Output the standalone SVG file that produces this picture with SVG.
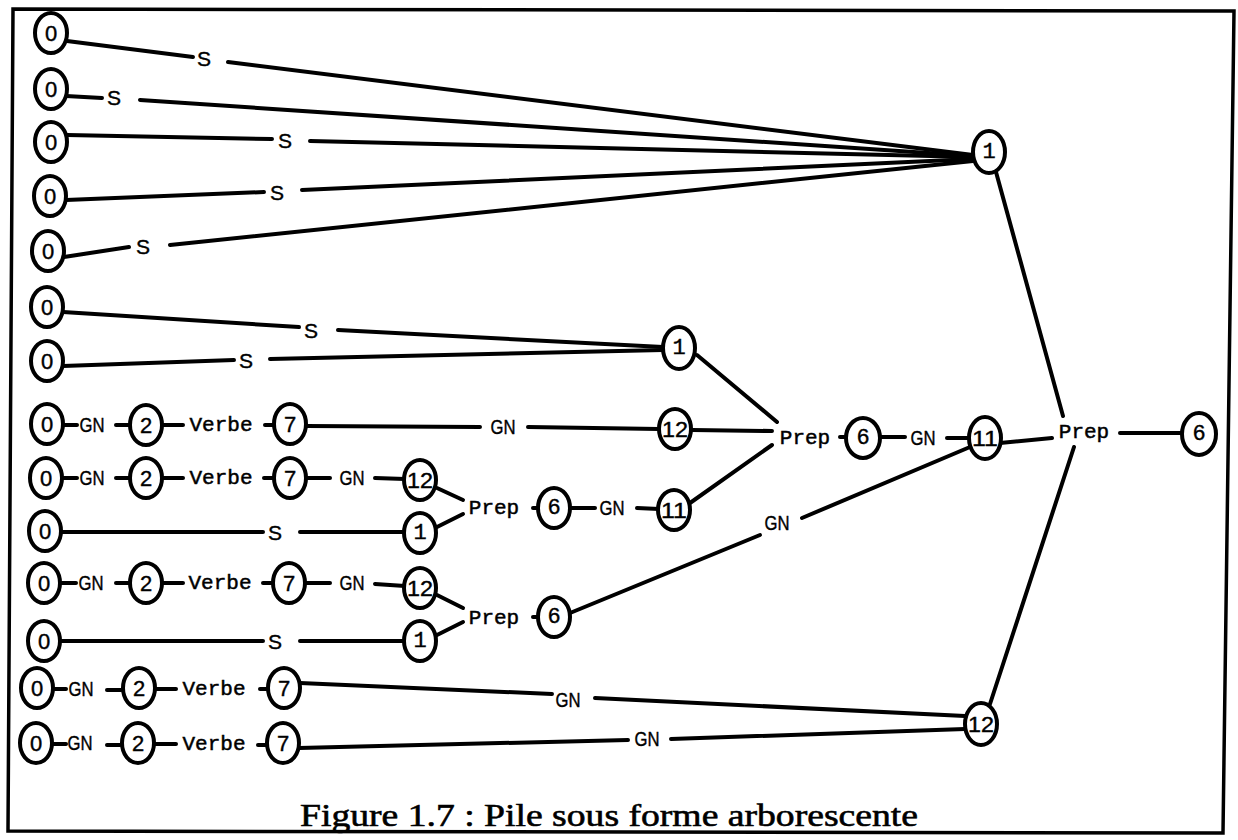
<svg xmlns="http://www.w3.org/2000/svg" width="1238" height="840" viewBox="0 0 1238 840">
  <style>
    .edge { stroke: #000; stroke-width: 4; fill: none; stroke-linecap: round; }
    .node ellipse { fill: #fff; stroke: #000; stroke-width: 4; }
    .num { font-family: "Liberation Sans", Arial, sans-serif; font-size: 22px; text-anchor: middle; dominant-baseline: central; fill: #000; stroke: #000; stroke-width: 0.4; }
    .numm { font-family: "Liberation Mono", "Courier New", monospace; font-size: 22px; text-anchor: middle; dominant-baseline: central; fill: #000; stroke: #000; stroke-width: 0.4; }
    .mono { font-family: "Liberation Mono", "Courier New", monospace; font-size: 21px; text-anchor: middle; dominant-baseline: central; fill: #000; stroke: #000; stroke-width: 0.5; }
    .gn { font-family: "Liberation Sans", Arial, sans-serif; font-size: 20px; text-anchor: middle; dominant-baseline: central; fill: #000; stroke: #000; stroke-width: 0.4; }
    .s { font-family: "Liberation Sans", Arial, sans-serif; font-size: 21px; text-anchor: middle; dominant-baseline: central; fill: #000; stroke: #000; stroke-width: 0.4; }
    .title { font-family: "Liberation Serif", "Times New Roman", serif; font-size: 32px; text-anchor: middle; fill: #000; stroke: #000; stroke-width: 0.6; }
  </style>

  <!-- frame -->
  <polygon points="13,9 1234,11 1223,833 8,831" fill="none" stroke="#000" stroke-width="3.5"/>

  <!-- connectors -->
  <g id="connectors" class="edge">
    <!-- rows 1-5 : S towards top node 1 -->
    <line x1="67" y1="41" x2="193" y2="57"/><line x1="228" y1="62" x2="973" y2="155"/>
    <line x1="66" y1="96" x2="102" y2="98"/><line x1="140" y1="100" x2="973" y2="156"/>
    <line x1="67" y1="135" x2="272" y2="139"/><line x1="310" y1="141" x2="973" y2="157"/>
    <line x1="66" y1="200" x2="264" y2="192"/><line x1="302" y1="190" x2="973" y2="159"/>
    <line x1="64" y1="257" x2="129" y2="247"/><line x1="170" y1="245" x2="973" y2="161"/>
    <!-- rows 6-7 : S towards middle node 1 -->
    <line x1="63" y1="312" x2="299" y2="327"/><line x1="338" y1="330" x2="663" y2="347"/>
    <line x1="63" y1="366" x2="234" y2="360"/><line x1="270" y1="359" x2="663" y2="350"/>
    <!-- row 8 -->
    <line x1="63" y1="425" x2="77" y2="425"/><line x1="116" y1="425" x2="131" y2="425"/>
    <line x1="162" y1="425" x2="183" y2="425"/><line x1="265" y1="425" x2="274" y2="425"/>
    <line x1="306" y1="426" x2="480" y2="427"/><line x1="528" y1="427" x2="659" y2="429"/>
    <line x1="692" y1="430" x2="772" y2="431"/>
    <!-- row 9 -->
    <line x1="62" y1="478" x2="77" y2="478"/><line x1="116" y1="478" x2="130" y2="478"/>
    <line x1="162" y1="478" x2="183" y2="478"/><line x1="264" y1="478" x2="274" y2="478"/>
    <line x1="306" y1="478" x2="330" y2="478"/><line x1="375" y1="478" x2="405" y2="479"/>
    <!-- row 10 -->
    <line x1="61" y1="532" x2="263" y2="532"/><line x1="300" y1="532" x2="405" y2="532"/>
    <!-- first lower Prep -->
    <line x1="437" y1="488" x2="463" y2="500"/><line x1="437" y1="527" x2="463" y2="514"/>
    <line x1="533" y1="508" x2="539" y2="508"/><line x1="570" y1="508" x2="595" y2="508"/>
    <line x1="637" y1="508" x2="659" y2="509"/><line x1="690" y1="503" x2="772" y2="445"/>
    <line x1="697" y1="355" x2="777" y2="422"/>
    <!-- row 11 -->
    <line x1="60" y1="583" x2="76" y2="583"/><line x1="116" y1="583" x2="130" y2="583"/>
    <line x1="162" y1="583" x2="183" y2="583"/><line x1="263" y1="583" x2="273" y2="583"/>
    <line x1="305" y1="583" x2="330" y2="583"/><line x1="375" y1="584" x2="405" y2="586"/>
    <!-- row 12 -->
    <line x1="60" y1="641" x2="263" y2="641"/><line x1="300" y1="641" x2="405" y2="641"/>
    <!-- second lower Prep -->
    <line x1="437" y1="595" x2="463" y2="608"/><line x1="437" y1="635" x2="463" y2="622"/>
    <line x1="533" y1="617" x2="539" y2="617"/>
    <line x1="570" y1="613" x2="760" y2="535"/><line x1="802" y1="518" x2="970" y2="447"/>
    <!-- middle Prep chain -->
    <line x1="840" y1="437" x2="846" y2="437"/><line x1="881" y1="437" x2="905" y2="437"/>
    <line x1="947" y1="438" x2="970" y2="438"/>
    <line x1="1000" y1="443" x2="1052" y2="438"/>
    <!-- right Prep -->
    <line x1="996" y1="172" x2="1063" y2="416"/>
    <line x1="1120" y1="433" x2="1182" y2="433"/>
    <line x1="1074" y1="447" x2="990" y2="704"/>
    <!-- row 13 -->
    <line x1="53" y1="689" x2="66" y2="689"/><line x1="107" y1="690" x2="121" y2="690"/>
    <line x1="155" y1="689" x2="176" y2="689"/><line x1="260" y1="689" x2="268" y2="689"/>
    <line x1="300" y1="683" x2="552" y2="694"/><line x1="595" y1="698" x2="965" y2="716"/>
    <!-- row 14 -->
    <line x1="52" y1="744" x2="66" y2="744"/><line x1="107" y1="745" x2="120" y2="745"/>
    <line x1="154" y1="744" x2="176" y2="744"/><line x1="258" y1="745" x2="266" y2="745"/>
    <line x1="299" y1="748" x2="628" y2="740"/><line x1="671" y1="739" x2="965" y2="729"/>
  </g>

  <!-- edge labels -->
  <g id="labels">
    <text class="s" x="204" y="58">S</text>
    <text class="s" x="114" y="97">S</text>
    <text class="s" x="285" y="140">S</text>
    <text class="s" x="277" y="192">S</text>
    <text class="s" x="143" y="246">S</text>
    <text class="s" x="311" y="330">S</text>
    <text class="s" x="246" y="360">S</text>
    <text class="s" x="275" y="532">S</text>
    <text class="s" x="275" y="641">S</text>

    <text class="gn" x="92" y="425" textLength="25" lengthAdjust="spacingAndGlyphs">GN</text>
    <text class="mono" x="221" y="425">Verbe</text>
    <text class="gn" x="503" y="427" textLength="25" lengthAdjust="spacingAndGlyphs">GN</text>

    <text class="gn" x="92" y="478" textLength="25" lengthAdjust="spacingAndGlyphs">GN</text>
    <text class="mono" x="221" y="478">Verbe</text>
    <text class="gn" x="352" y="478" textLength="25" lengthAdjust="spacingAndGlyphs">GN</text>

    <text class="gn" x="91" y="583" textLength="25" lengthAdjust="spacingAndGlyphs">GN</text>
    <text class="mono" x="220" y="583">Verbe</text>
    <text class="gn" x="352" y="583" textLength="25" lengthAdjust="spacingAndGlyphs">GN</text>

    <text class="mono" x="494" y="508">Prep</text>
    <text class="gn" x="612" y="508" textLength="25" lengthAdjust="spacingAndGlyphs">GN</text>
    <text class="mono" x="494" y="618">Prep</text>
    <text class="gn" x="777" y="523" textLength="25" lengthAdjust="spacingAndGlyphs">GN</text>

    <text class="mono" x="805" y="438">Prep</text>
    <text class="gn" x="923" y="438" textLength="25" lengthAdjust="spacingAndGlyphs">GN</text>
    <text class="mono" x="1084" y="432">Prep</text>

    <text class="gn" x="81" y="689" textLength="25" lengthAdjust="spacingAndGlyphs">GN</text>
    <text class="mono" x="214" y="689">Verbe</text>
    <text class="gn" x="568" y="700" textLength="25" lengthAdjust="spacingAndGlyphs">GN</text>

    <text class="gn" x="80" y="743" textLength="25" lengthAdjust="spacingAndGlyphs">GN</text>
    <text class="mono" x="214" y="744">Verbe</text>
    <text class="gn" x="647" y="739" textLength="25" lengthAdjust="spacingAndGlyphs">GN</text>
  </g>

  <!-- left-hand start states -->
  <g id="n-r1" class="node"><ellipse cx="51" cy="33" rx="16" ry="20"/><text class="num" x="51" y="33">0</text></g>
  <g id="n-r2" class="node"><ellipse cx="51" cy="89" rx="16" ry="20"/><text class="num" x="51" y="89">0</text></g>
  <g id="n-r3" class="node"><ellipse cx="51" cy="142" rx="16" ry="20"/><text class="num" x="51" y="142">0</text></g>
  <g id="n-r4" class="node"><ellipse cx="50" cy="196" rx="16" ry="20"/><text class="num" x="50" y="196">0</text></g>
  <g id="n-r5" class="node"><ellipse cx="48" cy="251" rx="16" ry="20"/><text class="num" x="48" y="251">0</text></g>
  <g id="n-r6" class="node"><ellipse cx="47" cy="307" rx="16" ry="20"/><text class="num" x="47" y="307">0</text></g>
  <g id="n-r7" class="node"><ellipse cx="47" cy="361" rx="16" ry="20"/><text class="num" x="47" y="361">0</text></g>
  <g id="n-r8" class="node"><ellipse cx="47" cy="424" rx="16" ry="20"/><text class="num" x="47" y="424">0</text></g>
  <g id="n-r9" class="node"><ellipse cx="46" cy="478" rx="16" ry="20"/><text class="num" x="46" y="478">0</text></g>
  <g id="n-r10" class="node"><ellipse cx="45" cy="531" rx="16" ry="20"/><text class="num" x="45" y="531">0</text></g>
  <g id="n-r11" class="node"><ellipse cx="44" cy="583" rx="16" ry="20"/><text class="num" x="44" y="583">0</text></g>
  <g id="n-r12" class="node"><ellipse cx="44" cy="641" rx="16" ry="20"/><text class="num" x="44" y="641">0</text></g>
  <g id="n-r13" class="node"><ellipse cx="37" cy="688" rx="16" ry="20"/><text class="num" x="37" y="688">0</text></g>
  <g id="n-r14" class="node"><ellipse cx="36" cy="743" rx="16" ry="20"/><text class="num" x="36" y="743">0</text></g>

  <!-- states 2 and 7 -->
  <g id="n-r8-2" class="node"><ellipse cx="146" cy="425" rx="16" ry="20"/><text class="num" x="146" y="425">2</text></g>
  <g id="n-r8-7" class="node"><ellipse cx="290" cy="424" rx="16" ry="20"/><text class="num" x="290" y="424">7</text></g>
  <g id="n-r9-2" class="node"><ellipse cx="146" cy="478" rx="16" ry="20"/><text class="num" x="146" y="478">2</text></g>
  <g id="n-r9-7" class="node"><ellipse cx="290" cy="478" rx="16" ry="20"/><text class="num" x="290" y="478">7</text></g>
  <g id="n-r11-2" class="node"><ellipse cx="146" cy="583" rx="16" ry="20"/><text class="num" x="146" y="583">2</text></g>
  <g id="n-r11-7" class="node"><ellipse cx="289" cy="583" rx="16" ry="20"/><text class="num" x="289" y="583">7</text></g>
  <g id="n-r13-2" class="node"><ellipse cx="139" cy="688" rx="16" ry="20"/><text class="num" x="139" y="688">2</text></g>
  <g id="n-r13-7" class="node"><ellipse cx="284" cy="688" rx="16" ry="20"/><text class="num" x="284" y="688">7</text></g>
  <g id="n-r14-2" class="node"><ellipse cx="138" cy="743" rx="16" ry="20"/><text class="num" x="138" y="743">2</text></g>
  <g id="n-r14-7" class="node"><ellipse cx="283" cy="743" rx="16" ry="20"/><text class="num" x="283" y="743">7</text></g>

  <!-- intermediate states -->
  <g id="n-a12" class="node"><ellipse cx="420" cy="480" rx="16" ry="20"/><text class="num" x="420" y="480" textLength="26" lengthAdjust="spacingAndGlyphs">12</text></g>
  <g id="n-a1" class="node"><ellipse cx="420" cy="533" rx="16" ry="20"/><text class="numm" x="420" y="533">1</text></g>
  <g id="n-b12" class="node"><ellipse cx="420" cy="588" rx="16" ry="20"/><text class="num" x="420" y="588" textLength="26" lengthAdjust="spacingAndGlyphs">12</text></g>
  <g id="n-b1" class="node"><ellipse cx="420" cy="641" rx="16" ry="20"/><text class="numm" x="420" y="641">1</text></g>
  <g id="n-a6" class="node"><ellipse cx="554" cy="508" rx="16" ry="20"/><text class="numm" x="554" y="508">6</text></g>
  <g id="n-a11" class="node"><ellipse cx="674" cy="510" rx="16" ry="20"/><text class="num" x="674" y="510" textLength="26" lengthAdjust="spacingAndGlyphs">11</text></g>
  <g id="n-b6" class="node"><ellipse cx="554" cy="617" rx="16" ry="20"/><text class="numm" x="554" y="617">6</text></g>
  <g id="n-m1" class="node"><ellipse cx="679" cy="348" rx="16" ry="21"/><text class="numm" x="679" y="348">1</text></g>
  <g id="n-m12" class="node"><ellipse cx="675" cy="429" rx="16" ry="20"/><text class="num" x="675" y="429" textLength="26" lengthAdjust="spacingAndGlyphs">12</text></g>
  <g id="n-m6" class="node"><ellipse cx="863" cy="438" rx="17" ry="20"/><text class="numm" x="863" y="438">6</text></g>
  <g id="n-m11" class="node"><ellipse cx="985" cy="438" rx="16" ry="21"/><text class="num" x="985" y="438" textLength="26" lengthAdjust="spacingAndGlyphs">11</text></g>
  <g id="n-t1" class="node"><ellipse cx="989" cy="152" rx="16" ry="21"/><text class="numm" x="989" y="152">1</text></g>
  <g id="n-end6" class="node"><ellipse cx="1199" cy="434" rx="17" ry="21"/><text class="numm" x="1199" y="434">6</text></g>
  <g id="n-b12r" class="node"><ellipse cx="981" cy="724" rx="16" ry="21"/><text class="num" x="981" y="724" textLength="26" lengthAdjust="spacingAndGlyphs">12</text></g>

  <!-- caption -->
  <text class="title" x="609" y="826" textLength="618" lengthAdjust="spacingAndGlyphs">Figure 1.7 : Pile sous forme arborescente</text>
</svg>
